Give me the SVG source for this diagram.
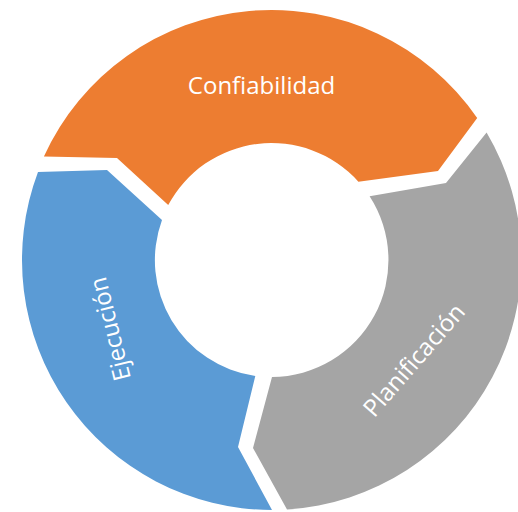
<svg xmlns="http://www.w3.org/2000/svg" width="518" height="512" viewBox="0 0 518 512">
  <style>
    .seg { stroke: none; }
    .orange { fill: #ED7D31; }
    .gray { fill: #A5A5A5; }
    .blue { fill: #5B9BD5; }
    .label { font-family: "Open Sans", "Liberation Sans", sans-serif; font-size: 24px; fill: #FFFFFF; text-anchor: middle; }
  </style>
  <rect width="518" height="512" fill="#FFFFFF"/>

  <!-- Top segment: arrow pointing clockwise into the right segment -->
  <g id="confiabilidad">
    <path class="seg orange" d="M 43.9 156.5 A 250 250 0 0 1 477.2 117.9 L 438 171 L 358.4 181.7 A 117 117 0 0 0 168.2 205.1 L 117 158 Z"/>
    <text class="label" x="261.5" y="85.5" dy="0.35em">Confiabilidad</text>
  </g>

  <!-- Right segment -->
  <g id="planificacion">
    <path class="seg gray" d="M 486.6 132.6 A 250 250 0 0 1 287 509.5 L 253 448 L 272 377 A 117 117 0 0 0 369.6 196.3 L 446 183 Z"/>
    <text class="label" transform="translate(414 360) rotate(-49)" x="0" y="0" dy="0.35em">Planificación</text>
  </g>

  <!-- Left segment -->
  <g id="ejecucion">
    <path class="seg blue" d="M 272 510 A 250 250 0 0 1 38 172 L 107 170 L 162 220 A 117 117 0 0 0 255.3 376 L 238 447 Z"/>
    <text class="label" transform="translate(110 329) rotate(-104)" x="0" y="0" dy="0.35em">Ejecución</text>
  </g>
</svg>
